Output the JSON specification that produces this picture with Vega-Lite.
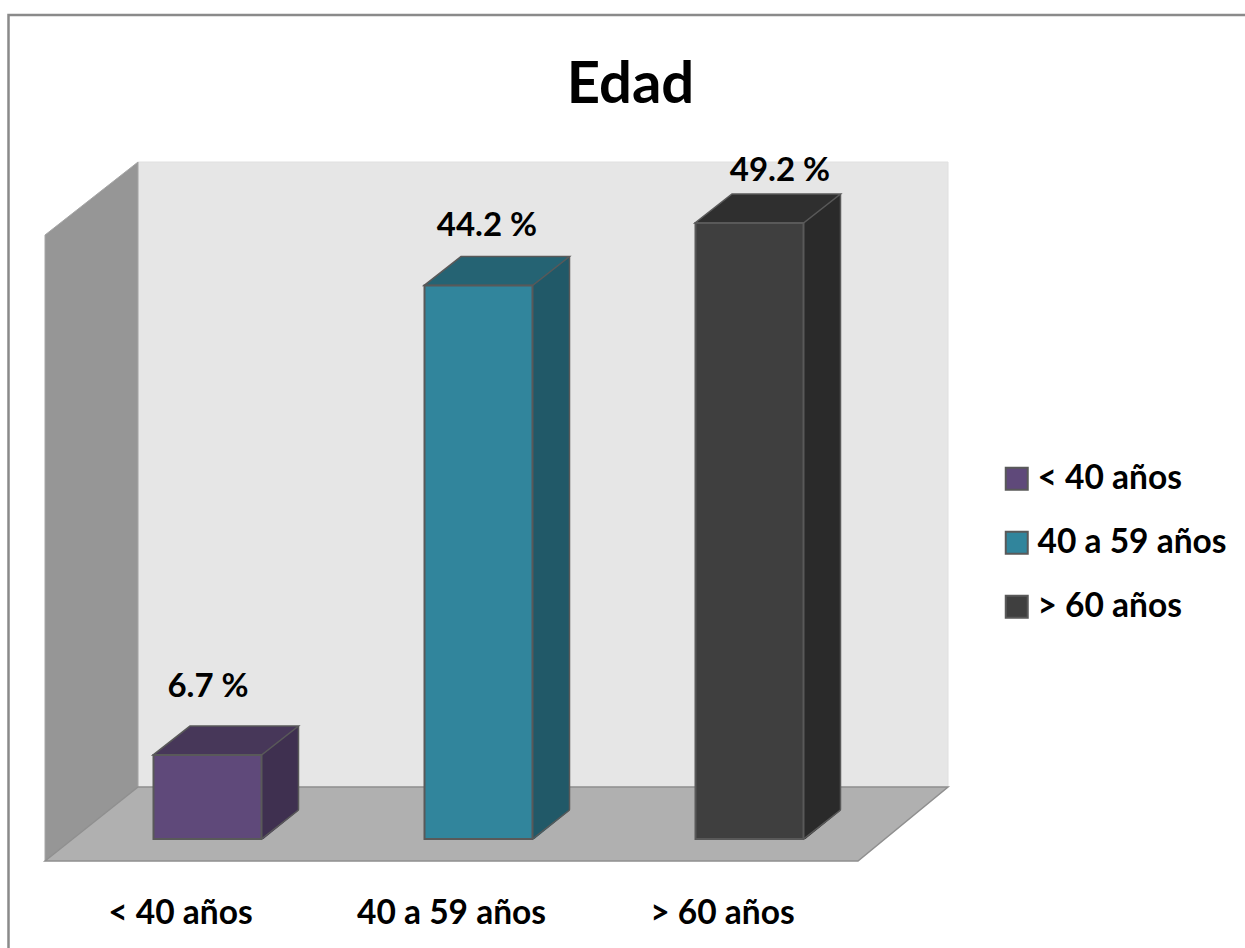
{
"$schema":"https://vega.github.io/schema/vega-lite/v6.json",
"autosize":{"type":"none"},"padding":0,"width":1245,"height":948,"background":"#ffffff",
"config":{"view":{"stroke":null},"font":"Lato"},
"title":{"text":"Edad","font":"Lato","fontSize":58,"fontWeight":"bold","color":"#000000","anchor":"middle","frame":"group","dx":8,"dy":165,"baseline":"alphabetic"},
"data":{"values":[
{"edad":"< 40 años","porcentaje":6.7,"etiqueta":"6.7 %"},
{"edad":"40 a 59 años","porcentaje":44.2,"etiqueta":"44.2 %"},
{"edad":"> 60 años","porcentaje":49.2,"etiqueta":"49.2 %"}]},
"resolve":{"scale":{"color":"independent"}},
"encoding":{
"x":{"field":"edad","type":"nominal","sort":null,"scale":{"domain":["< 40 años","40 a 59 años","> 60 años"],"range":[45,858],"paddingInner":0,"paddingOuter":0},
"axis":{"title":null,"orient":"bottom","domain":false,"ticks":false,"tickSize":0,"grid":false,"labelAngle":0,"offset":-35,"labelPadding":0,"labelBaseline":"middle","labelFont":"Lato","labelFontSize":33.5,"labelFontWeight":"bold","labelColor":"#000000","labelLimit":400,"labelOverlap":false}},
"y":{"field":"porcentaje","type":"quantitative","stack":null,"scale":{"domain":[0,50],"range":[839,213],"nice":false,"zero":true},"axis":null}
},
"layer":[
{"transform":[{"filter":"datum.edad === '< 40 años'"}],"mark":{"type":"point","filled":false,"opacity":1,"size":4,"stroke":"#8a8a8a","strokeWidth":2.5,"shape":"M-172,130L-172,-824L1080,-824"},"encoding":{"y":{"datum":0}}},
{"transform":[{"filter":"datum.edad === '< 40 años'"}],"mark":{"type":"point","filled":true,"opacity":1,"size":4,"fill":"#e6e6e6","stroke":"#e0e0e0","strokeWidth":1,"shape":"M-42.5,-677L767.5,-677L767.5,-52L-42.5,-52Z"},"encoding":{"y":{"datum":0}}},
{"transform":[{"filter":"datum.edad === '< 40 años'"}],"mark":{"type":"point","filled":true,"opacity":1,"size":4,"fill":"#969696","stroke":"#a6a6a6","strokeWidth":1,"shape":"M-135.5,-604L-42.5,-677L-42.5,-52L-135.5,22Z"},"encoding":{"y":{"datum":0}}},
{"transform":[{"filter":"datum.edad === '< 40 años'"}],"mark":{"type":"point","filled":true,"opacity":1,"size":4,"fill":"#b0b0b0","stroke":"#8f8f8f","strokeWidth":1.5,"shape":"M-135.5,22L-42.5,-52L767.5,-52L677.5,22Z"},"encoding":{"y":{"datum":0}}},
{"mark":{"type":"bar","size":37,"xOffset":99.5,"yOffset":-29},"encoding":{"color":{"field":"edad","type":"nominal","legend":null,"scale":{"domain":["< 40 años","40 a 59 años","> 60 años"],"range":["#3f3050","#215968","#2a2a2a"]}}}},
{"mark":{"type":"rule","xOffset":118,"yOffset":-29,"stroke":"#595959","strokeWidth":1.5},"encoding":{"y2":{"datum":0}}},
{"mark":{"type":"point","filled":true,"opacity":1,"size":4,"fill":"#b0b0b0","strokeWidth":0,"shape":"M81,1.5L120,1.5L120,-30Z"},"encoding":{"y":{"datum":0}}},
{"mark":{"type":"point","filled":false,"opacity":1,"size":4,"stroke":"#595959","strokeWidth":1.5,"shape":"M81,0L118,-29"},"encoding":{"y":{"datum":0}}},
{"mark":{"type":"point","filled":true,"opacity":1,"size":4,"stroke":"#595959","strokeWidth":1.5,"shape":"M-27.5,0L81,0L118,-29L9.5,-29Z"},"encoding":{"color":{"field":"edad","type":"nominal","legend":null,"scale":{"domain":["< 40 años","40 a 59 años","> 60 años"],"range":["#473759","#256373","#2f2f2f"]}}}},
{"mark":{"type":"bar","size":108,"xOffset":27,"stroke":"#595959","strokeWidth":2},"encoding":{"color":{"field":"edad","type":"nominal","scale":{"domain":["< 40 años","40 a 59 años","> 60 años"],"range":["#5f497a","#31859c","#3f3f3f"]},
"legend":{"title":null,"orient":"none","legendX":1000,"legendY":462,"symbolType":"square","symbolSize":484,"symbolStrokeColor":"#595959","symbolStrokeWidth":2,"symbolOpacity":1,"labelFont":"Lato","labelFontSize":33.5,"labelFontWeight":"bold","labelColor":"#000000","labelOffset":4,"rowPadding":29,"padding":0,"labelLimit":300}}}},
{"transform":[{"filter":"datum.edad === '< 40 años'"}],"mark":{"type":"text","font":"Lato","fontSize":33,"fontWeight":"bold","color":"#000000","baseline":"middle","align":"center","dx":27.5,"dy":-68},"encoding":{"text":{"field":"etiqueta"}}},
{"transform":[{"filter":"datum.edad === '40 a 59 años'"}],"mark":{"type":"text","font":"Lato","fontSize":33,"fontWeight":"bold","color":"#000000","baseline":"middle","align":"center","dx":35.5,"dy":-60},"encoding":{"text":{"field":"etiqueta"}}},
{"transform":[{"filter":"datum.edad === '> 60 años'"}],"mark":{"type":"text","font":"Lato","fontSize":33,"fontWeight":"bold","color":"#000000","baseline":"middle","align":"center","dx":57.5,"dy":-52},"encoding":{"text":{"field":"etiqueta"}}}
]
}
